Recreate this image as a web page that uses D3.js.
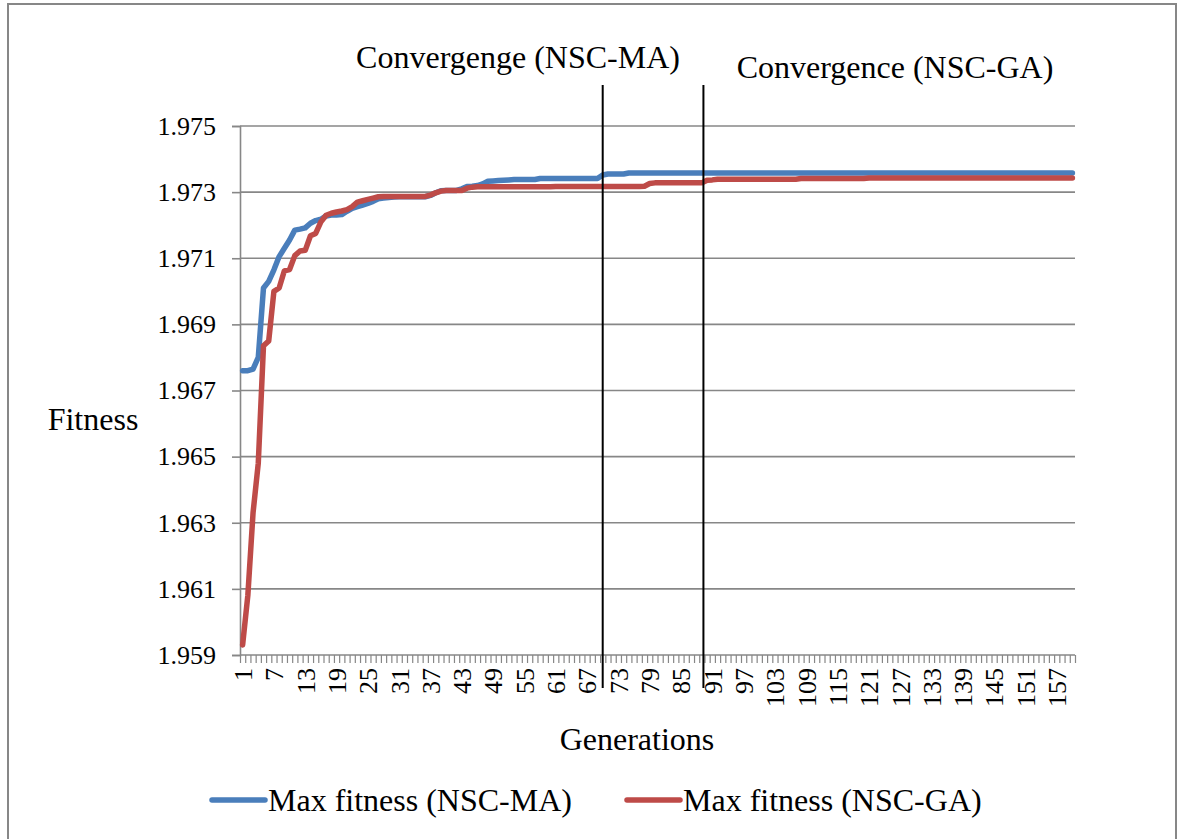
<!DOCTYPE html>
<html>
<head>
<meta charset="utf-8">
<script src="https://cdn.jsdelivr.net/npm/d3@7"></script>
<style>
  body { margin: 0; background: #fff; }
  svg { display: block; }
  text { font-family: "Liberation Serif", "Times New Roman", serif; fill: #000; }
</style>
</head>
<body>
<svg id="chart" width="1181" height="839"></svg>
<script>
// Generations 1..160 (category axis)
const generations = d3.range(1, 161);

// Category labels shown on the x axis (every sixth generation)
const xTickLabels = [1, 7, 13, 19, 25, 31, 37, 43, 49, 55, 61, 67, 73, 79, 85, 91, 97,
  103, 109, 115, 121, 127, 133, 139, 145, 151, 157];

// Fitness gridline values
const yTickValues = [1.959, 1.961, 1.963, 1.965, 1.967, 1.969, 1.971, 1.973, 1.975];

// Max fitness per generation, NSC-MA
const maxFitnessMA = [
  1.96760, 1.96760, 1.96765, 1.96800, 1.97010, 1.97030, 1.97065, 1.97105, 1.97130, 1.97155,
  1.97185, 1.97188, 1.97192, 1.97206, 1.97214, 1.97218, 1.97228, 1.97231, 1.97231, 1.97232,
  1.97242, 1.97251, 1.97256, 1.97261, 1.97266, 1.97272, 1.97280, 1.97282, 1.97284, 1.97285,
  1.97286, 1.97286, 1.97286, 1.97286, 1.97286, 1.97286, 1.97290, 1.97298, 1.97304, 1.97305,
  1.97305, 1.97305, 1.97310, 1.97317, 1.97318, 1.97320, 1.97325, 1.97333, 1.97334, 1.97335,
  1.97336, 1.97337, 1.97338, 1.97338, 1.97338, 1.97338, 1.97338, 1.97341, 1.97341, 1.97341,
  1.97341, 1.97341, 1.97341, 1.97341, 1.97341, 1.97341, 1.97341, 1.97341, 1.97341, 1.97352,
  1.97355, 1.97355, 1.97355, 1.97355, 1.97358, 1.97358, 1.97358, 1.97358, 1.97358, 1.97358,
  1.97358, 1.97358, 1.97358, 1.97358, 1.97358, 1.97358, 1.97358, 1.97358, 1.97358, 1.97358,
  1.97358, 1.97358, 1.97358, 1.97358, 1.97358, 1.97358, 1.97358, 1.97358, 1.97358, 1.97358,
  1.97358, 1.97358, 1.97358, 1.97358, 1.97358, 1.97358, 1.97358, 1.97358, 1.97358, 1.97358,
  1.97358, 1.97358, 1.97358, 1.97358, 1.97358, 1.97358, 1.97358, 1.97358, 1.97358, 1.97358,
  1.97358, 1.97358, 1.97358, 1.97358, 1.97358, 1.97358, 1.97358, 1.97358, 1.97358, 1.97358,
  1.97358, 1.97358, 1.97358, 1.97358, 1.97358, 1.97358, 1.97358, 1.97358, 1.97358, 1.97358,
  1.97358, 1.97358, 1.97358, 1.97358, 1.97358, 1.97358, 1.97358, 1.97358, 1.97358, 1.97358,
  1.97358, 1.97358, 1.97358, 1.97358, 1.97358, 1.97358, 1.97358, 1.97358, 1.97358, 1.97358
];

// Max fitness per generation, NSC-GA
const maxFitnessGA = [
  1.95930, 1.96080, 1.96330, 1.96480, 1.96835, 1.96850, 1.97000, 1.97010, 1.97062, 1.97066,
  1.97108, 1.97122, 1.97124, 1.97168, 1.97175, 1.97210, 1.97230, 1.97236, 1.97240, 1.97243,
  1.97247, 1.97256, 1.97270, 1.97274, 1.97278, 1.97282, 1.97286, 1.97287, 1.97287, 1.97287,
  1.97287, 1.97287, 1.97287, 1.97287, 1.97287, 1.97287, 1.97291, 1.97298, 1.97303, 1.97305,
  1.97305, 1.97305, 1.97305, 1.97312, 1.97315, 1.97316, 1.97316, 1.97316, 1.97316, 1.97316,
  1.97316, 1.97316, 1.97316, 1.97316, 1.97316, 1.97316, 1.97316, 1.97316, 1.97316, 1.97316,
  1.97317, 1.97317, 1.97317, 1.97317, 1.97317, 1.97317, 1.97317, 1.97317, 1.97317, 1.97317,
  1.97317, 1.97317, 1.97317, 1.97317, 1.97317, 1.97317, 1.97317, 1.97318, 1.97326, 1.97328,
  1.97328, 1.97328, 1.97328, 1.97328, 1.97328, 1.97328, 1.97328, 1.97328, 1.97328, 1.97336,
  1.97337, 1.97339, 1.97339, 1.97339, 1.97339, 1.97339, 1.97339, 1.97339, 1.97339, 1.97339,
  1.97339, 1.97339, 1.97339, 1.97339, 1.97339, 1.97339, 1.97339, 1.97341, 1.97341, 1.97341,
  1.97341, 1.97341, 1.97341, 1.97341, 1.97341, 1.97341, 1.97341, 1.97341, 1.97341, 1.97341,
  1.97343, 1.97343, 1.97343, 1.97343, 1.97343, 1.97343, 1.97343, 1.97343, 1.97343, 1.97343,
  1.97343, 1.97343, 1.97343, 1.97343, 1.97343, 1.97343, 1.97343, 1.97343, 1.97343, 1.97343,
  1.97343, 1.97343, 1.97343, 1.97343, 1.97343, 1.97343, 1.97343, 1.97343, 1.97343, 1.97343,
  1.97343, 1.97343, 1.97343, 1.97343, 1.97343, 1.97343, 1.97343, 1.97343, 1.97343, 1.97343
];

// Generations at which each algorithm is marked as converged
const convergenceGenerations = [70, 89.3];
const convergenceLabels = ["Convergenge (NSC-MA)", "Convergence (NSC-GA)"];

const seriesNames = ["Max fitness (NSC-MA)", "Max fitness (NSC-GA)"];
const seriesColors = ["#4a7ebb", "#be4b48"];

// ---- layout ----
const serif = '"Liberation Serif", "Times New Roman", serif';
const svg = d3.select("#chart");
const plot = { left: 240, right: 1075, top: 126, bottom: 655 };
const gridColor = "#878787";

svg.append("rect")
  .attr("x", 8).attr("y", 4).attr("width", 1168).attr("height", 850)
  .attr("fill", "#fff").attr("stroke", gridColor).attr("stroke-width", 2);

const x = d3.scaleLinear()
  .domain([0.5, generations.length + 0.5])
  .range([plot.left, plot.right]);

const y = d3.scaleLinear()
  .domain([1.959, 1.975])
  .range([plot.bottom, plot.top]);

// horizontal gridlines
svg.append("g")
  .selectAll("line")
  .data(yTickValues.slice(1))
  .join("line")
  .attr("x1", plot.left).attr("x2", plot.right)
  .attr("y1", d => y(d)).attr("y2", d => y(d))
  .attr("stroke", gridColor).attr("stroke-width", 1.6);

// y axis
const yAxis = svg.append("g")
  .attr("transform", `translate(${plot.left},0)`)
  .call(d3.axisLeft(y).tickValues(yTickValues).tickFormat(d3.format(".3f"))
    .tickSize(8).tickPadding(16))
  .attr("font-family", serif)
  .attr("font-size", 26);
yAxis.select(".domain").attr("stroke", gridColor).attr("stroke-width", 1.6);
yAxis.selectAll(".tick line").attr("stroke", gridColor).attr("stroke-width", 1.6);
yAxis.selectAll(".tick text").attr("fill", "#000");

// x axis: one tick per category boundary
const xTicks = svg.append("g")
  .attr("transform", `translate(0,${plot.bottom})`)
  .call(d3.axisBottom(x).tickValues(d3.range(0.5, generations.length + 1, 1))
    .tickSize(8).tickFormat(""));
xTicks.select(".domain").remove();
xTicks.selectAll(".tick line").attr("stroke", gridColor).attr("stroke-width", 1.2);

// x axis labels, rotated
const xLabels = svg.append("g")
  .attr("transform", `translate(0,${plot.bottom})`)
  .call(d3.axisBottom(x).tickValues(xTickLabels).tickSize(0).tickFormat(d3.format("d")))
  .attr("font-family", serif)
  .attr("font-size", 26);
xLabels.select(".domain").remove();
xLabels.selectAll(".tick text")
  .attr("fill", "#000")
  .attr("transform", "rotate(-90)")
  .attr("text-anchor", "end")
  .attr("x", -13).attr("y", 0).attr("dy", "0.34em");

// axis baseline
svg.append("line")
  .attr("x1", plot.left).attr("x2", plot.right)
  .attr("y1", plot.bottom).attr("y2", plot.bottom)
  .attr("stroke", gridColor).attr("stroke-width", 1.6);

// series lines
const line = d3.line()
  .x((d, i) => x(generations[i]))
  .y(d => y(d));

[maxFitnessMA, maxFitnessGA].forEach((series, k) => {
  svg.append("path")
    .datum(series)
    .attr("d", line)
    .attr("fill", "none")
    .attr("stroke", seriesColors[k])
    .attr("stroke-width", 5.5)
    .attr("stroke-linejoin", "round")
    .attr("stroke-linecap", "round");
});

// convergence markers
svg.append("g")
  .selectAll("line")
  .data(convergenceGenerations)
  .join("line")
  .attr("x1", d => x(d)).attr("x2", d => x(d))
  .attr("y1", 85).attr("y2", 688)
  .attr("stroke", "#000").attr("stroke-width", 2);

const labelPos = [{ x: 518, y: 68 }, { x: 895, y: 78 }];
svg.append("g")
  .selectAll("text")
  .data(convergenceLabels)
  .join("text")
  .attr("x", (d, i) => labelPos[i].x)
  .attr("y", (d, i) => labelPos[i].y)
  .attr("text-anchor", "middle")
  .attr("font-size", 32)
  .text(d => d);

// axis titles
svg.append("text")
  .attr("x", 93).attr("y", 430)
  .attr("text-anchor", "middle").attr("font-size", 32)
  .text("Fitness");

svg.append("text")
  .attr("x", 637).attr("y", 750)
  .attr("text-anchor", "middle").attr("font-size", 32)
  .text("Generations");

// legend
const legendX = [210, 625];
const legend = svg.append("g")
  .selectAll("g")
  .data(seriesNames)
  .join("g")
  .attr("transform", (d, i) => `translate(${legendX[i]},800)`);
legend.append("line")
  .attr("x1", 2).attr("x2", 55).attr("y1", 0).attr("y2", 0)
  .attr("stroke", (d, i) => seriesColors[i])
  .attr("stroke-width", 5.5).attr("stroke-linecap", "round");
legend.append("text")
  .attr("x", 58).attr("y", 11)
  .attr("font-size", 32)
  .text(d => d);
</script>
</body>
</html>
